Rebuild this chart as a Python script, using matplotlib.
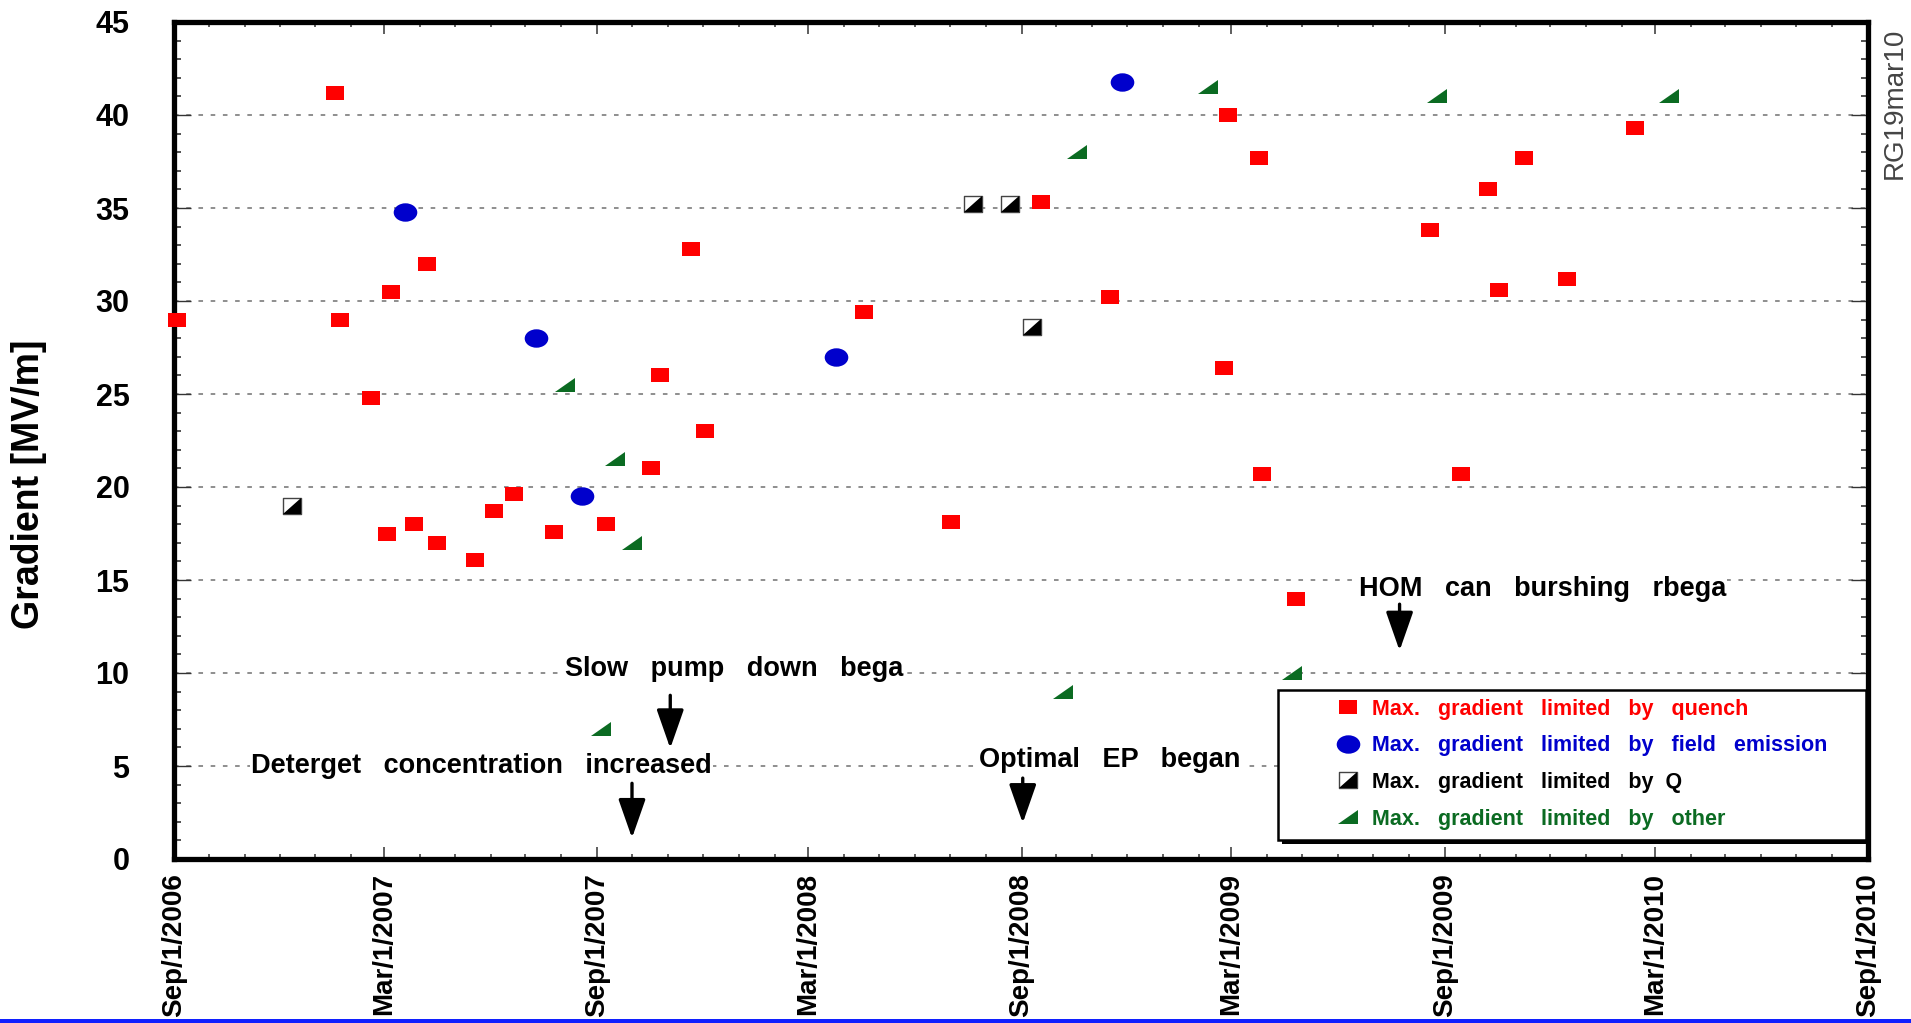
import numpy as np
import matplotlib
matplotlib.use("Agg")
import matplotlib.pyplot as plt
import matplotlib.dates as mdates
from matplotlib.path import Path
from matplotlib.ticker import MultipleLocator, FuncFormatter
from matplotlib.lines import Line2D
from matplotlib.patches import Rectangle
from matplotlib.legend_handler import HandlerTuple

# ---------------- data ----------------
quench_dates = ["2006-09-04", "2007-01-18", "2007-01-22", "2007-02-18", "2007-03-04",
                "2007-03-07", "2007-03-27", "2007-04-07", "2007-04-16", "2007-05-19",
                "2007-06-04", "2007-06-21", "2007-07-26", "2007-09-09", "2007-10-17",
                "2007-10-25", "2007-11-21", "2007-12-03", "2008-04-18", "2008-07-02",
                "2008-09-18", "2008-11-16", "2009-02-23", "2009-02-26", "2009-03-25",
                "2009-03-27", "2009-04-26", "2009-08-19", "2009-09-15", "2009-10-08",
                "2009-10-18", "2009-11-08", "2009-12-15", "2010-02-12"]
quench_grad = [29.0, 41.2, 29.0, 24.8, 17.5, 30.5, 18.0, 32.0, 17.0, 16.1,
               18.7, 19.6, 17.6, 18.0, 21.0, 26.0, 32.8, 23.0, 29.4, 18.1,
               35.3, 30.2, 26.4, 40.0, 37.7, 20.7, 14.0, 33.8, 20.7, 36.0,
               30.6, 37.7, 31.2, 39.3]

fe_dates = ["2007-03-19", "2007-07-10", "2007-08-19", "2008-03-25", "2008-11-27"]
fe_grad = [34.8, 28.0, 19.5, 27.0, 41.8]

q_dates = ["2006-12-12", "2008-07-21", "2008-08-22", "2008-09-10"]
q_grad = [19.0, 35.2, 35.2, 28.6]

other_dates = ["2007-08-04", "2007-09-04", "2007-09-16", "2007-10-01", "2008-10-07",
               "2008-10-19", "2009-02-09", "2009-04-22", "2009-08-25", "2010-03-13"]
other_grad = [25.5, 7.0, 21.5, 17.0, 9.0, 38.0, 41.5, 10.0, 41.0, 41.0]

legend_labels = ["Max.   gradient   limited   by   quench",
                 "Max.   gradient   limited   by   field   emission",
                 "Max.   gradient   limited   by  Q",
                 "Max.   gradient   limited   by   other"]

annot_text = ["Deterget   concentration   increased",
              "Slow   pump   down   bega",
              "Optimal   EP   began",
              "HOM   can   burshing   rbega"]
annot_date = ["2007-05-24", "2007-12-28", "2008-11-16", "2009-11-24"]
annot_y = [5.0, 10.2, 5.3, 14.5]

arrow_date = ["2007-10-01", "2007-11-03", "2008-09-02", "2009-07-24"]
arrow_top = [4.07, 8.8, 4.35, 13.7]
arrow_tip = [1.13, 5.95, 1.93, 11.2]

x_start, x_end = "2006-09-01", "2010-09-01"

# ---------------- style ----------------
plt.rcParams['font.family'] = ['Liberation Sans', 'DejaVu Sans']
plt.rcParams['font.weight'] = 'bold'
plt.rcParams['axes.labelweight'] = 'bold'

RED = '#ff0000'
BLUE = '#0000cc'
GREEN = '#0b6b22'

W, H = 1911, 1023
def fx(px):
    return px / W
def fy(py):
    return 1 - py / H

fig = plt.figure(figsize=(W / 100, H / 100), dpi=100)
ax = fig.add_axes([fx(174), fy(859), fx(1868) - fx(174), fy(22) - fy(859)])

def poly(verts):
    v = np.array(list(verts) + [verts[0]], float)
    return Path(v, closed=True)

m_square = poly([(-0.65, -0.5), (0.65, -0.5), (0.65, 0.5), (-0.65, 0.5)])
uc = Path.unit_circle()
m_circle = Path(uc.vertices * np.array([1.0, 0.78]), uc.codes)
m_qbox = poly([(-0.6, -0.5), (0.6, -0.5), (0.6, 0.5), (-0.6, 0.5)])
m_qtri = poly([(-0.6, -0.5), (0.6, -0.5), (0.6, 0.5)])
m_tri = poly([(-0.5, -0.37), (0.5, -0.37), (0.5, 0.37)])

to_d = lambda s: np.array(s, dtype='datetime64[D]')

sty_q = dict(ls='none', marker=m_square, ms=12.7, mfc=RED, mew=0)
sty_fe = dict(ls='none', marker=m_circle, ms=17, mfc=BLUE, mew=0)
sty_qb = dict(ls='none', marker=m_qbox, ms=13, mfc='white', mec='#444444', mew=1.0)
sty_qt = dict(ls='none', marker=m_qtri, ms=13, mfc='black', mew=0)
sty_o = dict(ls='none', marker=m_tri, ms=14, mfc=GREEN, mew=0)

ax.plot(to_d(quench_dates), quench_grad, zorder=4, clip_on=False, **sty_q)
ax.plot(to_d(fe_dates), fe_grad, zorder=4, clip_on=False, **sty_fe)
ax.plot(to_d(q_dates), q_grad, zorder=4, clip_on=False, **sty_qb)
ax.plot(to_d(q_dates), q_grad, zorder=4.1, clip_on=False, **sty_qt)
ax.plot(to_d(other_dates), other_grad, zorder=4, clip_on=False, **sty_o)

ax.set_xlim(to_d(x_start), to_d(x_end))
ax.set_ylim(0, 45)

# ticks
ax.xaxis.set_major_locator(mdates.MonthLocator(bymonth=[3, 9], bymonthday=1))
ax.xaxis.set_minor_locator(mdates.MonthLocator())
def xfmt(x, pos):
    d = mdates.num2date(x)
    return f"{d:%b}/{d.day}/{d.year}"
ax.xaxis.set_major_formatter(FuncFormatter(xfmt))
ax.yaxis.set_major_locator(MultipleLocator(5))
ax.yaxis.set_minor_locator(MultipleLocator(1))

ax.tick_params(which='both', direction='in', top=True, right=True, color='#333333')
ax.tick_params(axis='x', which='major', length=8.6, width=1.1, labelsize=20,
               labelrotation=90, pad=10)
ax.tick_params(axis='x', which='minor', length=3.6, width=1.1)
ax.tick_params(axis='y', which='major', length=12, width=1.0, labelsize=22, pad=32)
ax.tick_params(axis='y', which='minor', length=5, width=1.2)

for sp in ax.spines.values():
    sp.set_linewidth(3.8)
    sp.set_color('black')

ax.set_axisbelow(True)
ax.grid(axis='y', which='major', linestyle=(0, (3, 5)), color='#707070', lw=1.1)

ax.set_ylabel('Gradient [MV/m]', fontsize=27, fontweight='bold')
ax.yaxis.set_label_coords((29 - 174) / 1694, (859 - 484) / 837)
ax.yaxis.label.set_va('center')

# annotations
for t, d, y in zip(annot_text, annot_date, annot_y):
    ax.text(to_d(d), y, t, ha='center', va='center', fontsize=19.5, zorder=3,
            bbox=dict(facecolor='white', edgecolor='none', pad=1))
for d, y0, y1 in zip(arrow_date, arrow_top, arrow_tip):
    ax.annotate('', xy=(to_d(d), y1), xytext=(to_d(d), y0),
                arrowprops=dict(arrowstyle='-|>,head_length=1.2,head_width=0.42',
                                mutation_scale=20, lw=2.4, color='black',
                                shrinkA=0, shrinkB=0), zorder=3)

# legend box with shadow
bx0, by0, bx1, by1 = 1278, 690, 1866, 840
ax.add_patch(Rectangle((fx(bx0 + 4), fy(by1 + 4)), fx(bx1) - fx(bx0), fy(by0) - fy(by1),
                       transform=fig.transFigure, facecolor='black', edgecolor='none',
                       zorder=5, clip_on=False))
ax.add_patch(Rectangle((fx(bx0), fy(by1)), fx(bx1) - fx(bx0), fy(by0) - fy(by1),
                       transform=fig.transFigure, facecolor='white', edgecolor='black',
                       lw=1.8, zorder=5.1, clip_on=False))

handles = [Line2D([], [], **sty_q), Line2D([], [], **sty_fe),
           (Line2D([], [], **sty_qb), Line2D([], [], **sty_qt)),
           Line2D([], [], **sty_o)]
leg = ax.legend(handles, legend_labels, loc='upper left',
                bbox_to_anchor=(fx(1335), fy(699)), bbox_transform=fig.transFigure,
                frameon=False, prop=dict(weight='bold', size=15.5),
                labelcolor=[RED, BLUE, 'black', GREEN], handlelength=1.2,
                handletextpad=0.5, borderpad=0, borderaxespad=0, labelspacing=0.72,
                numpoints=1, handler_map={tuple: HandlerTuple(ndivide=1)})
leg.set_zorder(7)

# side stamp and bottom line
fig.text(fx(1895), fy(28), 'RG19mar10', rotation=90, ha='center', va='top',
         fontsize=20, fontweight='normal', color='#444444')
fig.add_artist(Line2D([0, 1], [fy(1020.5), fy(1020.5)], transform=fig.transFigure,
                      color='#1020ff', lw=3.6))

fig.savefig('out.png', dpi=100)
